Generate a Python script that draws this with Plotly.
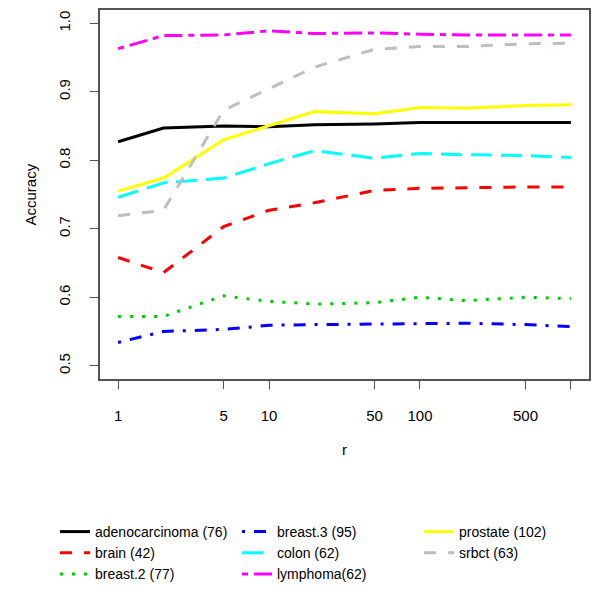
import plotly.graph_objects as go

r_values = [1, 2, 5, 10, 20, 50, 100, 200, 500, 1000]

adenocarcinoma = [0.827, 0.847, 0.850, 0.849, 0.852, 0.853, 0.855, 0.855, 0.855, 0.855]
brain = [0.658, 0.636, 0.703, 0.727, 0.738, 0.756, 0.759, 0.760, 0.761, 0.761]
breast2 = [0.572, 0.572, 0.602, 0.594, 0.590, 0.592, 0.600, 0.595, 0.600, 0.598]
breast3 = [0.534, 0.550, 0.553, 0.559, 0.560, 0.561, 0.562, 0.562, 0.560, 0.557]
colon = [0.746, 0.767, 0.774, 0.795, 0.814, 0.803, 0.810, 0.808, 0.807, 0.804]
lymphoma = [0.963, 0.982, 0.983, 0.989, 0.985, 0.986, 0.984, 0.983, 0.983, 0.983]
prostate = [0.755, 0.774, 0.830, 0.851, 0.871, 0.868, 0.877, 0.876, 0.880, 0.881]
srbct = [0.719, 0.727, 0.873, 0.905, 0.936, 0.962, 0.966, 0.966, 0.970, 0.971]

series_names = ["adenocarcinoma (76)", "brain (42)", "breast.2 (77)", "breast.3 (95)",
                "colon (62)", "lymphoma(62)", "prostate (102)", "srbct (63)"]
series_values = [adenocarcinoma, brain, breast2, breast3, colon, lymphoma, prostate, srbct]
series_colors = ["#000000", "#FF0000", "#00CD00", "#0000FF", "#00FFFF", "#FF00FF", "#FFFF00", "#BEBEBE"]
series_dash = ["solid", "12px,12px", "3px,9px", "3px,9px,12px,9px", "21px,9px",
               "6px,6px,18px,6px", "solid", "12px,12px"]
# which legend column each series goes in
legend_groups = ["legend", "legend", "legend", "legend2", "legend2", "legend2", "legend3", "legend3"]

x_tickvals = [1, 5, 10, 50, 100, 500, 1000]
x_ticktext = ["1", "5", "10", "50", "100", "500", ""]
y_tickvals = [0.5, 0.6, 0.7, 0.8, 0.9, 1.0]
y_ticktext = ["0.5", "0.6", "0.7", "0.8", "0.9", "1.0"]
x_title = "r"
y_title = "Accuracy"

fig = go.Figure()
for name, vals, col, dash, lg in zip(series_names, series_values, series_colors, series_dash, legend_groups):
    fig.add_trace(go.Scatter(x=r_values, y=vals, mode="lines", name=name,
                             line=dict(color=col, width=3, dash=dash),
                             legend=lg))

font_family = "Liberation Sans, Arial, Helvetica, sans-serif"
axis_col = "#555555"
W = 592
H = 592


def legend_box(xpx):
    return dict(orientation="v", xref="container", yref="container",
                x=xpx / W, y=(H - 508) / H, xanchor="left", yanchor="top",
                font=dict(size=14, family=font_family),
                itemwidth=30, tracegroupgap=0, bgcolor="rgba(0,0,0,0)")


fig.update_layout(
    width=W, height=H,
    margin=dict(l=92, r=11, t=2, b=221, autoexpand=False),
    paper_bgcolor="white", plot_bgcolor="white",
    font=dict(family=font_family, size=15, color="#000000"),
    showlegend=True,
    legend=legend_box(47),
    legend2=legend_box(229),
    legend3=legend_box(411),
    xaxis=dict(type="log", range=[-0.12, 3.12], tickvals=x_tickvals, ticktext=x_ticktext,
               ticks="outside", ticklen=8, tickwidth=1, tickcolor=axis_col,
               showline=True, linecolor=axis_col, linewidth=1.5, mirror=True,
               showgrid=False, zeroline=False, ticklabelstandoff=14, automargin=False),
    yaxis=dict(range=[0.4806, 1.0194], tickvals=y_tickvals, ticktext=y_ticktext,
               ticks="outside", ticklen=8, tickwidth=1, tickcolor=axis_col,
               showline=True, linecolor=axis_col, linewidth=1.5, mirror=True,
               showgrid=False, zeroline=False, tickangle=-90, ticklabelstandoff=14,
               automargin=False),
    annotations=[
        dict(text=x_title, xref="paper", yref="paper", x=0.5, y=0, xanchor="center",
             yanchor="middle", yshift=-70, showarrow=False, font=dict(size=15)),
        dict(text=y_title, xref="paper", yref="paper", x=0, y=0.5, xanchor="center",
             yanchor="middle", xshift=-70, textangle=-90, showarrow=False, font=dict(size=15)),
    ],
)

fig.write_html("out.html")
